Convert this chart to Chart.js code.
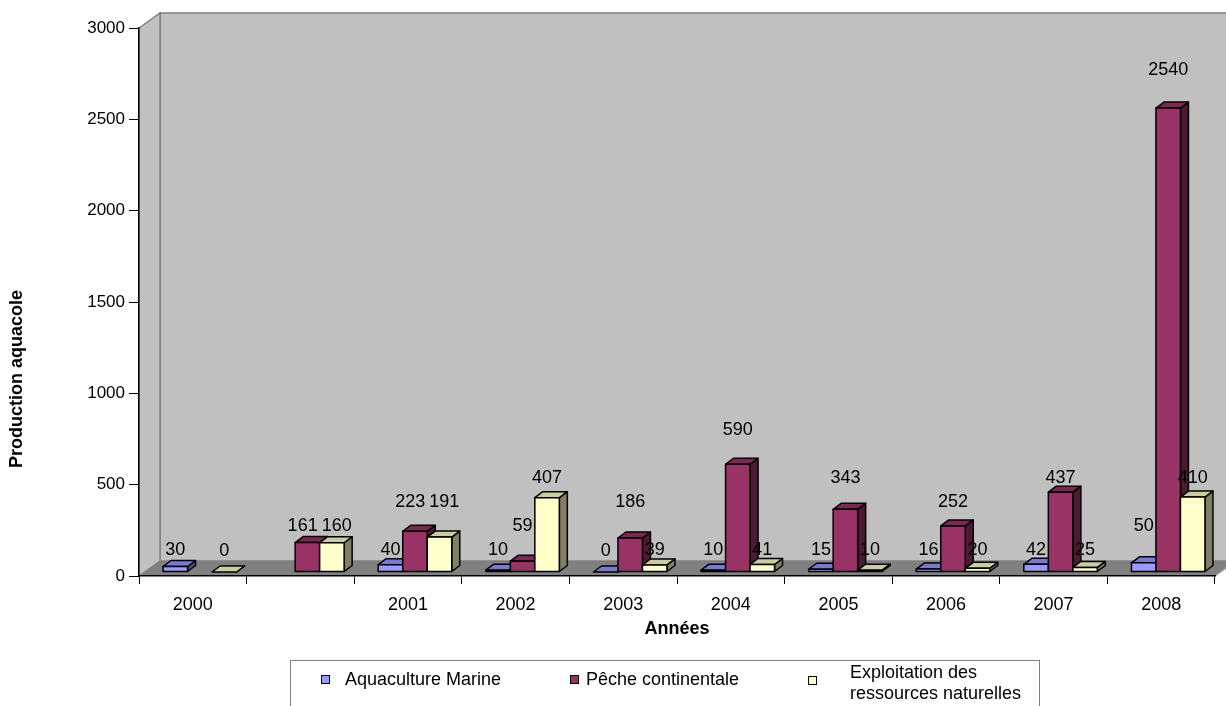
<!DOCTYPE html>
<html>
<head>
<meta charset="utf-8">
<script src="https://cdn.jsdelivr.net/npm/chart.js@4.4.1/dist/chart.umd.min.js"></script>
<style>
  body { margin: 0; background: #fff; }
  #wrap { position: relative; width: 1226px; height: 706px; overflow: hidden; }
  #legend { position: absolute; left: 290px; top: 660px; width: 750px; height: 60px;
    border: 1px solid #808080; box-sizing: border-box;
    font: 18px "Liberation Sans", Arial, sans-serif; line-height: 21px; color: #000; }
  #legend .sw { position: absolute; width: 7px; height: 7px; border: 1.5px solid #000; }
  #legend .txt { position: absolute; white-space: nowrap; }
</style>
</head>
<body>
<div id="wrap">
  <canvas id="chart" width="1226" height="706"></canvas>
  <div id="legend"></div>
</div>
<script>
const categories = ['2000', '', '2001', '2002', '2003', '2004', '2005', '2006', '2007', '2008'];
const aquacultureMarine = [30, null, 40, 10, 0, 10, 15, 16, 42, 50];
const pecheContinentale = [null, 161, 223, 59, 186, 590, 343, 252, 437, 2540];
const exploitationRessources = [0, 160, 191, 407, 39, 41, 10, 20, 25, 410];

const seriesNames = ['Aquaculture Marine', 'Pêche continentale', 'Exploitation des\nressources naturelles'];
const seriesColors = ['#9999FF', '#993366', '#FFFFCC'];

const FONT = '"Liberation Sans", Arial, sans-serif';

// depth of the bars and shift of the bars into the middle of the floor
const DX = 8, DY = -6;
const SHIFT_X = 7, SHIFT_Y = -4;
// depth of the walls
const WX = 21, WY = -15;

function shade(hex, f) {
  const n = parseInt(hex.slice(1), 16);
  const r = Math.round(((n >> 16) & 255) * f);
  const g = Math.round(((n >> 8) & 255) * f);
  const b = Math.round((n & 255) * f);
  return `rgb(${r},${g},${b})`;
}

function poly(ctx, pts, fill, stroke) {
  ctx.beginPath();
  ctx.moveTo(pts[0][0], pts[0][1]);
  for (let i = 1; i < pts.length; i++) ctx.lineTo(pts[i][0], pts[i][1]);
  ctx.closePath();
  if (fill) { ctx.fillStyle = fill; ctx.fill(); }
  if (stroke) { ctx.strokeStyle = stroke; ctx.stroke(); }
}

const walls3d = {
  id: 'walls3d',
  beforeDraw(chart) {
    const ctx = chart.ctx;
    const {left, top, right, bottom} = chart.chartArea;
    ctx.save();
    ctx.lineWidth = 1.5;
    // back wall
    poly(ctx, [[left + WX, top + WY], [right + WX + 20, top + WY], [right + WX + 20, bottom + WY], [left + WX, bottom + WY]], '#C0C0C0', '#808080');
    // left wall
    poly(ctx, [[left, top], [left + WX, top + WY], [left + WX, bottom + WY], [left, bottom]], '#C0C0C0', '#808080');
    // floor
    poly(ctx, [[left, bottom], [left + WX, bottom + WY], [right + WX, bottom + WY], [right, bottom]], '#808080', null);
    ctx.strokeStyle = '#A0A0A0';
    ctx.beginPath();
    ctx.moveTo(right, bottom);
    ctx.lineTo(right + WX, bottom + WY);
    ctx.stroke();
    ctx.restore();
  }
};

const bars3d = {
  id: 'bars3d',
  beforeDatasetsDraw(chart) {
    const ctx = chart.ctx;
    const datasets = chart.data.datasets;
    const zeroPx = chart.scales.y.getPixelForValue(0);
    const labels = [];
    ctx.save();
    ctx.lineWidth = 1.5;
    ctx.lineJoin = 'round';
    ctx.font = '18px ' + FONT;
    for (let i = 0; i < categories.length; i++) {
      datasets.forEach((ds, d) => {
        const v = ds.data[i];
        if (v == null) return;
        const el = chart.getDatasetMeta(d).data[i];
        const {x, y, base, width} = el.getProps(['x', 'y', 'base', 'width'], true);
        const l = x - width / 2 + SHIFT_X, r = l + width;
        const t = y + SHIFT_Y, b = base + SHIFT_Y;
        const c = ds.backgroundColor;
        poly(ctx, [[r, b], [r + DX, b + DY], [r + DX, t + DY], [r, t]], shade(c, 0.5), '#000');
        poly(ctx, [[l, t], [l + DX, t + DY], [r + DX, t + DY], [r, t]], shade(c, 0.8), '#000');
        if (b - t > 0.5) poly(ctx, [[l, t], [r, t], [r, b], [l, b]], c, '#000');
        // value labels sit on text rows 24px apart above the floor
        const h = zeroPx - y;
        const k = Math.max(0, Math.ceil((h - 7.9) / 24));
        const txt = String(v);
        const lab = {txt, x: x + SHIFT_X, y: b - 21 - 24 * k, w: ctx.measureText(txt).width};
        // push apart labels that sit on the same row and overlap
        const prev = labels[labels.length - 1];
        if (prev && prev.y === lab.y) {
          const need = (prev.w + lab.w) / 2 + 4;
          const gap = lab.x - prev.x;
          if (gap < need) {
            prev.x -= (need - gap) / 2;
            lab.x += (need - gap) / 2;
          }
        }
        labels.push(lab);
      });
    }
    ctx.fillStyle = '#000';
    ctx.textAlign = 'center';
    ctx.textBaseline = 'middle';
    labels.forEach(lab => ctx.fillText(lab.txt, lab.x, lab.y));
    ctx.restore();
    return false;
  }
};

const axisTitles = {
  id: 'axisTitles',
  afterDraw(chart) {
    const ctx = chart.ctx;
    const {left, right} = chart.chartArea;
    ctx.save();
    ctx.fillStyle = '#000';
    ctx.font = 'bold 18px ' + FONT;
    ctx.textAlign = 'center';
    ctx.textBaseline = 'middle';
    ctx.fillText('Années', (left + right) / 2, 629);
    ctx.translate(17, 379);
    ctx.rotate(-Math.PI / 2);
    ctx.fillText('Production aquacole', 0, 0);
    ctx.restore();
  }
};

new Chart(document.getElementById('chart'), {
  type: 'bar',
  data: {
    labels: categories,
    datasets: [
      {label: seriesNames[0], data: aquacultureMarine, backgroundColor: seriesColors[0]},
      {label: seriesNames[1], data: pecheContinentale, backgroundColor: seriesColors[1]},
      {label: seriesNames[2], data: exploitationRessources, backgroundColor: seriesColors[2]}
    ]
  },
  options: {
    responsive: false,
    animation: false,
    layout: {padding: {left: 0, right: 11, top: 28, bottom: 80}},
    datasets: {bar: {categoryPercentage: 0.683, barPercentage: 1}},
    plugins: {legend: {display: false}, tooltip: {enabled: false}},
    scales: {
      x: {
        grid: {drawOnChartArea: false, offset: true, tickLength: 8, color: '#000', lineWidth: 1},
        border: {color: '#000', width: 1.5},
        ticks: {color: '#000', font: {family: FONT, size: 18}, padding: 10, maxRotation: 0, autoSkip: false},
        afterFit(s) { s.height = 50; }
      },
      y: {
        min: 0, max: 3000,
        grid: {drawOnChartArea: false, tickLength: 10, color: '#000', lineWidth: 1},
        border: {color: '#000', width: 1.5},
        ticks: {stepSize: 500, color: '#000', font: {family: FONT, size: 17}, padding: 4,
          callback: v => String(v)},
        afterFit(s) { s.width = 139; }
      }
    }
  },
  plugins: [walls3d, bars3d, axisTitles]
});

// legend below the chart
const legend = document.getElementById('legend');
const legendPos = [[30, 14, 54, 8], [279, 14, 295, 8], [517, 15, 559, 1]];
seriesNames.forEach((name, i) => {
  const [sx, sy, tx, ty] = legendPos[i];
  const sw = document.createElement('div');
  sw.className = 'sw';
  sw.style.left = sx + 'px';
  sw.style.top = sy + 'px';
  sw.style.background = seriesColors[i];
  legend.appendChild(sw);
  const t = document.createElement('div');
  t.className = 'txt';
  t.style.left = tx + 'px';
  t.style.top = ty + 'px';
  t.innerHTML = name.split('\n').join('<br>');
  legend.appendChild(t);
});
</script>
</body>
</html>
